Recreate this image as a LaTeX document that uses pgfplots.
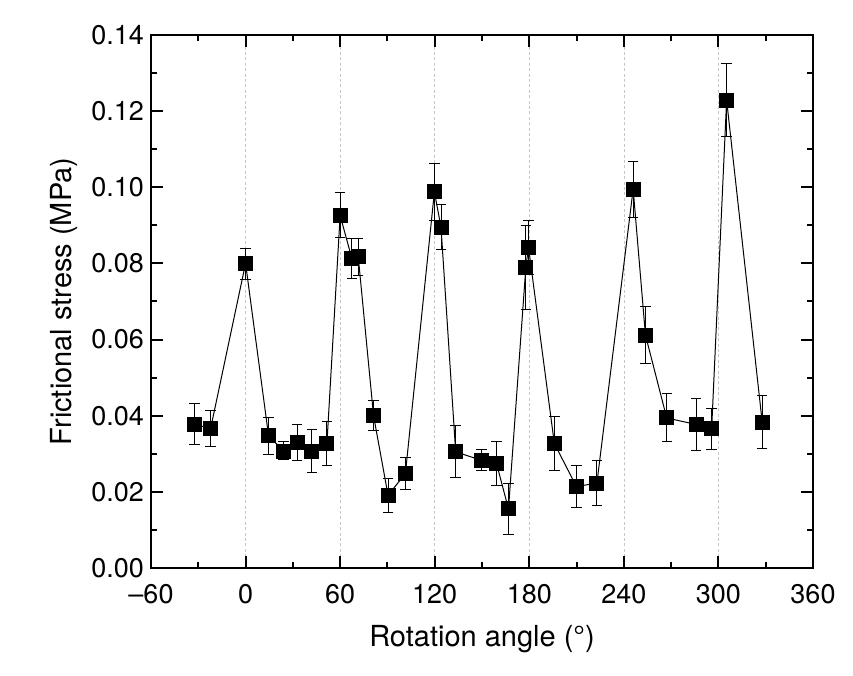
\documentclass[border=0pt]{standalone}
\usepackage{pgfplots}
\pgfplotsset{compat=1.18}
\usepackage{pgfplotstable}
\usepackage{fontspec}
\setmainfont{TeX Gyre Heros}

% angle (deg), frictional stress (MPa), upper and lower error
\pgfplotstableread{
x      y       ep      em
-32.4  0.0378  0.0055  0.0053
-22.2  0.0366  0.0049  0.0048
0.0    0.0800  0.0039  0.0041
14.6   0.0347  0.0049  0.0049
24.1   0.0307  0.0025  0.0022
32.8   0.0329  0.0047  0.0046
42.0   0.0305  0.0059  0.0055
51.6   0.0326  0.0059  0.0058
60.0   0.0926  0.0059  0.0057
67.5   0.0812  0.0053  0.0051
71.5   0.0817  0.0048  0.0049
81.2   0.0400  0.0039  0.0038
90.4   0.0191  0.0044  0.0044
101.4  0.0248  0.0041  0.0041
119.8  0.0988  0.0074  0.0076
124.0  0.0895  0.0061  0.0058
133.3  0.0305  0.0068  0.0066
149.6  0.0283  0.0028  0.0028
159.2  0.0275  0.0056  0.0057
166.8  0.0155  0.0067  0.0067
177.8  0.0789  0.0110  0.0111
179.5  0.0843  0.0070  0.0071
195.9  0.0327  0.0072  0.0072
209.9  0.0214  0.0056  0.0054
222.9  0.0223  0.0060  0.0059
245.9  0.0995  0.0074  0.0075
253.7  0.0612  0.0075  0.0074
267.2  0.0394  0.0064  0.0063
285.9  0.0377  0.0068  0.0068
295.7  0.0366  0.0053  0.0055
305.2  0.1229  0.0097  0.0096
327.8  0.0382  0.0071  0.0069
}\stress

\begin{document}
\begin{tikzpicture}
\useasboundingbox (-75.5bp,-54bp) rectangle (351bp,284bp);
\begin{axis}[
  scale only axis,
  width=331bp, height=266.5bp,
  xmin=-60, xmax=360, ymin=0, ymax=0.14,
  xtick={-60,0,60,120,180,240,300,360},
  xticklabels={\textendash60,0,60,120,180,240,300,360},
  ytick={0,0.02,0.04,0.06,0.08,0.10,0.12,0.14},
  yticklabel style={/pgf/number format/.cd, fixed, fixed zerofill, precision=2, assume math mode=true},
  xticklabel style={yshift=-4.5bp},
  scaled y ticks=false,
  minor x tick num=1, minor y tick num=1,
  tick align=inside,
  major tick length=6bp, minor tick length=3bp,
  tick style={line width=1bp, black},
  axis line style={line width=1bp},
  xmajorgrids,
  major x grid style={dash pattern=on 1.5bp off 1.2bp, gray!45, line width=0.35bp},
  ticklabel style={font=\fontsize{13.5bp}{15bp}\selectfont},
  label style={font=\fontsize{14.5bp}{17bp}\selectfont},
  xlabel={Rotation angle (°)},
  ylabel={Frictional stress (MPa)},
  xlabel style={yshift=-4bp},
  ylabel style={yshift=0bp},
]
\addplot[black, line width=0.5bp, mark=square*, mark size=3.5bp,
  mark options={solid, fill=black},
  error bars/.cd, y dir=both, y explicit,
  error bar style={line width=0.5bp, black},
  error mark options={rotate=90, mark size=2.6bp, line width=0.5bp}]
  table[x=x, y=y, y error plus=ep, y error minus=em] {\stress};
\end{axis}
\end{tikzpicture}
\end{document}
